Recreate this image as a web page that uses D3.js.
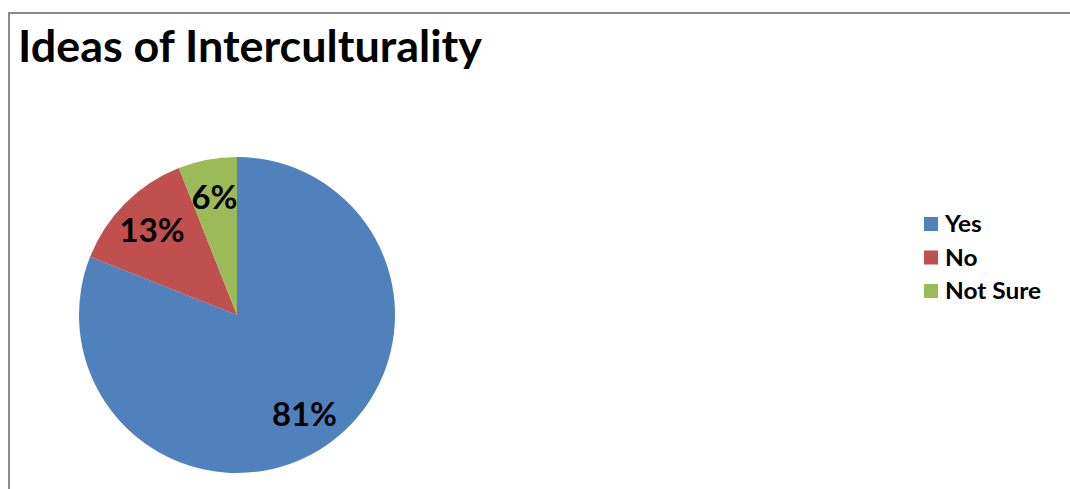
<!DOCTYPE html>
<html><head><meta charset="utf-8">
<script src="https://cdn.jsdelivr.net/npm/d3@7"></script>
<style>body{margin:0;background:#fff}svg{display:block}</style>
</head><body>
<svg id="c" width="1070" height="489"></svg>
<script>
const title = "Ideas of Interculturality";
const categories = ["Yes", "No", "Not Sure"];
const values = [81, 13, 6];
const labels = ["81%", "13%", "6%"];
const colors = ["#4F81BD", "#C0504D", "#9BBB59"];

const svg = d3.select("#c");
const font = "Lato, 'Open Sans', sans-serif";

// frame
svg.append("path").attr("d","M9,489 V13 H1070").attr("fill","none").attr("stroke","#8c8c8c").attr("stroke-width",2);

const t = svg.append("text").attr("x",18).attr("y",62).attr("font-family",font)
  .attr("font-weight","bold").attr("font-size",43).attr("fill","#000").text(title);
t.attr("textLength",464).attr("lengthAdjust","spacingAndGlyphs");

const cx = 237, cy = 315, r = 158;
const pie = d3.pie().sort(null).value(d=>d)(values);
const arc = d3.arc().innerRadius(0).outerRadius(r);
const lab = d3.arc().innerRadius(r*0.76).outerRadius(r*0.76);
const g = svg.append("g").attr("transform",`translate(${cx},${cy})`);
g.selectAll("path").data(pie).join("path").attr("d",arc).attr("fill",(d,i)=>colors[i]);
const lt = g.selectAll("text").data(pie).join("text")
  .attr("transform",d=>`translate(${lab.centroid(d)})`)
  .attr("text-anchor","middle").attr("dy","0.36em")
  .attr("font-family",font).attr("font-weight","bold").attr("font-size",32).attr("fill","#000")
  .text((d,i)=>labels[i]);
const k = 65/lt.nodes()[0].getComputedTextLength();
lt.each(function(){ const w=this.getComputedTextLength(); d3.select(this).attr("textLength",w*k).attr("lengthAdjust","spacingAndGlyphs"); });

const lg = svg.append("g");
const ly = d3.scalePoint().domain(categories).range([224, 291]);
categories.forEach((c,i)=>{
  lg.append("rect").attr("x",924).attr("y",ly(c)-7).attr("width",14).attr("height",14).attr("fill",colors[i]);
  lg.append("text").attr("x",945).attr("y",ly(c)+8)
    .attr("font-family",font).attr("font-weight","bold").attr("font-size",22).attr("fill","#000").text(c);
});
const lts = lg.selectAll("text");
const k2 = 96/lts.nodes()[2].getComputedTextLength();
lts.each(function(){ const w=this.getComputedTextLength(); d3.select(this).attr("textLength",w*k2).attr("lengthAdjust","spacingAndGlyphs"); });
</script>
</body></html>
